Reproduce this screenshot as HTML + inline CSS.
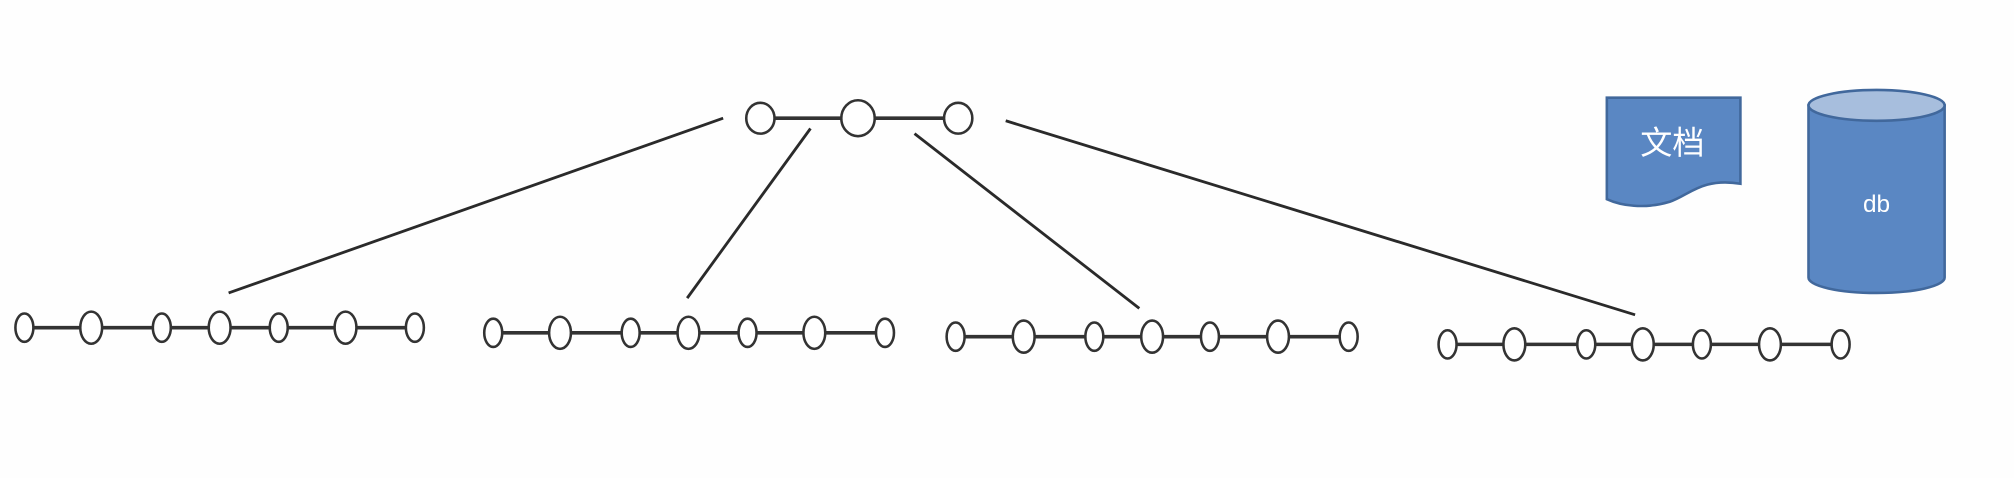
<!DOCTYPE html>
<html><head><meta charset="utf-8"><style>
html,body{margin:0;padding:0;background:#fefefe;width:2014px;height:478px;overflow:hidden}
svg{display:block}
</style></head><body>
<svg id="chart" width="2014" height="478" viewBox="0 0 1568 372" preserveAspectRatio="none" xmlns="http://www.w3.org/2000/svg">
<g id="edges"></g>
<g id="nodes"></g>
<g>
<path d="M1251,76 L1355,76 L1355,143 C1325,138 1315,152 1300,157 C1280,163 1262,160 1251,155 Z" fill="#5a87c3" stroke="#41689c" stroke-width="2"/>
<text x="1302" y="120" fill="#fff" font-size="25" text-anchor="middle" font-family="'Liberation Sans','Noto Sans CJK SC',sans-serif">文档</text>
</g>
<g>
<path d="M1408,82 L1408,216 A53,12 0 0 0 1514,216 L1514,82 Z" fill="#5a87c3" stroke="#41689c" stroke-width="2"/>
<ellipse cx="1461" cy="82" rx="53" ry="12" fill="#a7bedd" stroke="#41689c" stroke-width="2"/>
<text x="1461" y="165" fill="#fff" font-size="19" text-anchor="middle" font-family="'Liberation Sans',sans-serif">db</text>
</g>
</svg>
<script>
const topKeysX = [592, 668, 746];
const topY = 92;
const leafRowsX = [
  [19, 71, 126, 171, 217, 269, 323],
  [384, 436, 491, 536, 582, 634, 689],
  [744, 797, 852, 897, 942, 995, 1050],
  [1127, 1179, 1235, 1279, 1325, 1378, 1433]
];
const leafRowsY = [255, 259, 262, 268];
const edgeStarts = [[563, 92], [631, 100], [712, 104], [783, 94]];
const edgeEnds = [[178, 228], [535, 232], [887, 240], [1273, 245]];

const NS = 'http://www.w3.org/2000/svg';
const edges = document.getElementById('edges');
const nodes = document.getElementById('nodes');
function mk(tag, attrs, parent) {
  const e = document.createElementNS(NS, tag);
  for (const k in attrs) e.setAttribute(k, attrs[k]);
  parent.appendChild(e);
  return e;
}
edgeStarts.forEach((s, i) => {
  const l = mk('line', {x1: s[0], y1: s[1], x2: edgeEnds[i][0], y2: edgeEnds[i][1], stroke: '#2a2a2a', 'stroke-width': 2.2}, edges);
  
  
});
function chain(xs, y, rx, ry, big) {
  for (let i = 0; i < xs.length - 1; i++) {
    const l = mk('line', {x1: xs[i], y1: y, x2: xs[i + 1], y2: y, stroke: '#333', 'stroke-width': 2.8}, nodes);
    
    
  }
  xs.forEach((x, i) => {
    const b = big(i);
    const e = mk('ellipse', {cx: x, cy: y, rx: rx + b, ry: ry + b, fill: '#fff', stroke: '#333', 'stroke-width': 2}, nodes);
    
    
  });
}
chain(topKeysX, topY, 11, 12, i => i === 1 ? 2 : 0);
leafRowsX.forEach((xs, r) => chain(xs, leafRowsY[r], 7, 11, i => i % 2 === 1 ? 1.5 : 0));
</script>
</body></html>
